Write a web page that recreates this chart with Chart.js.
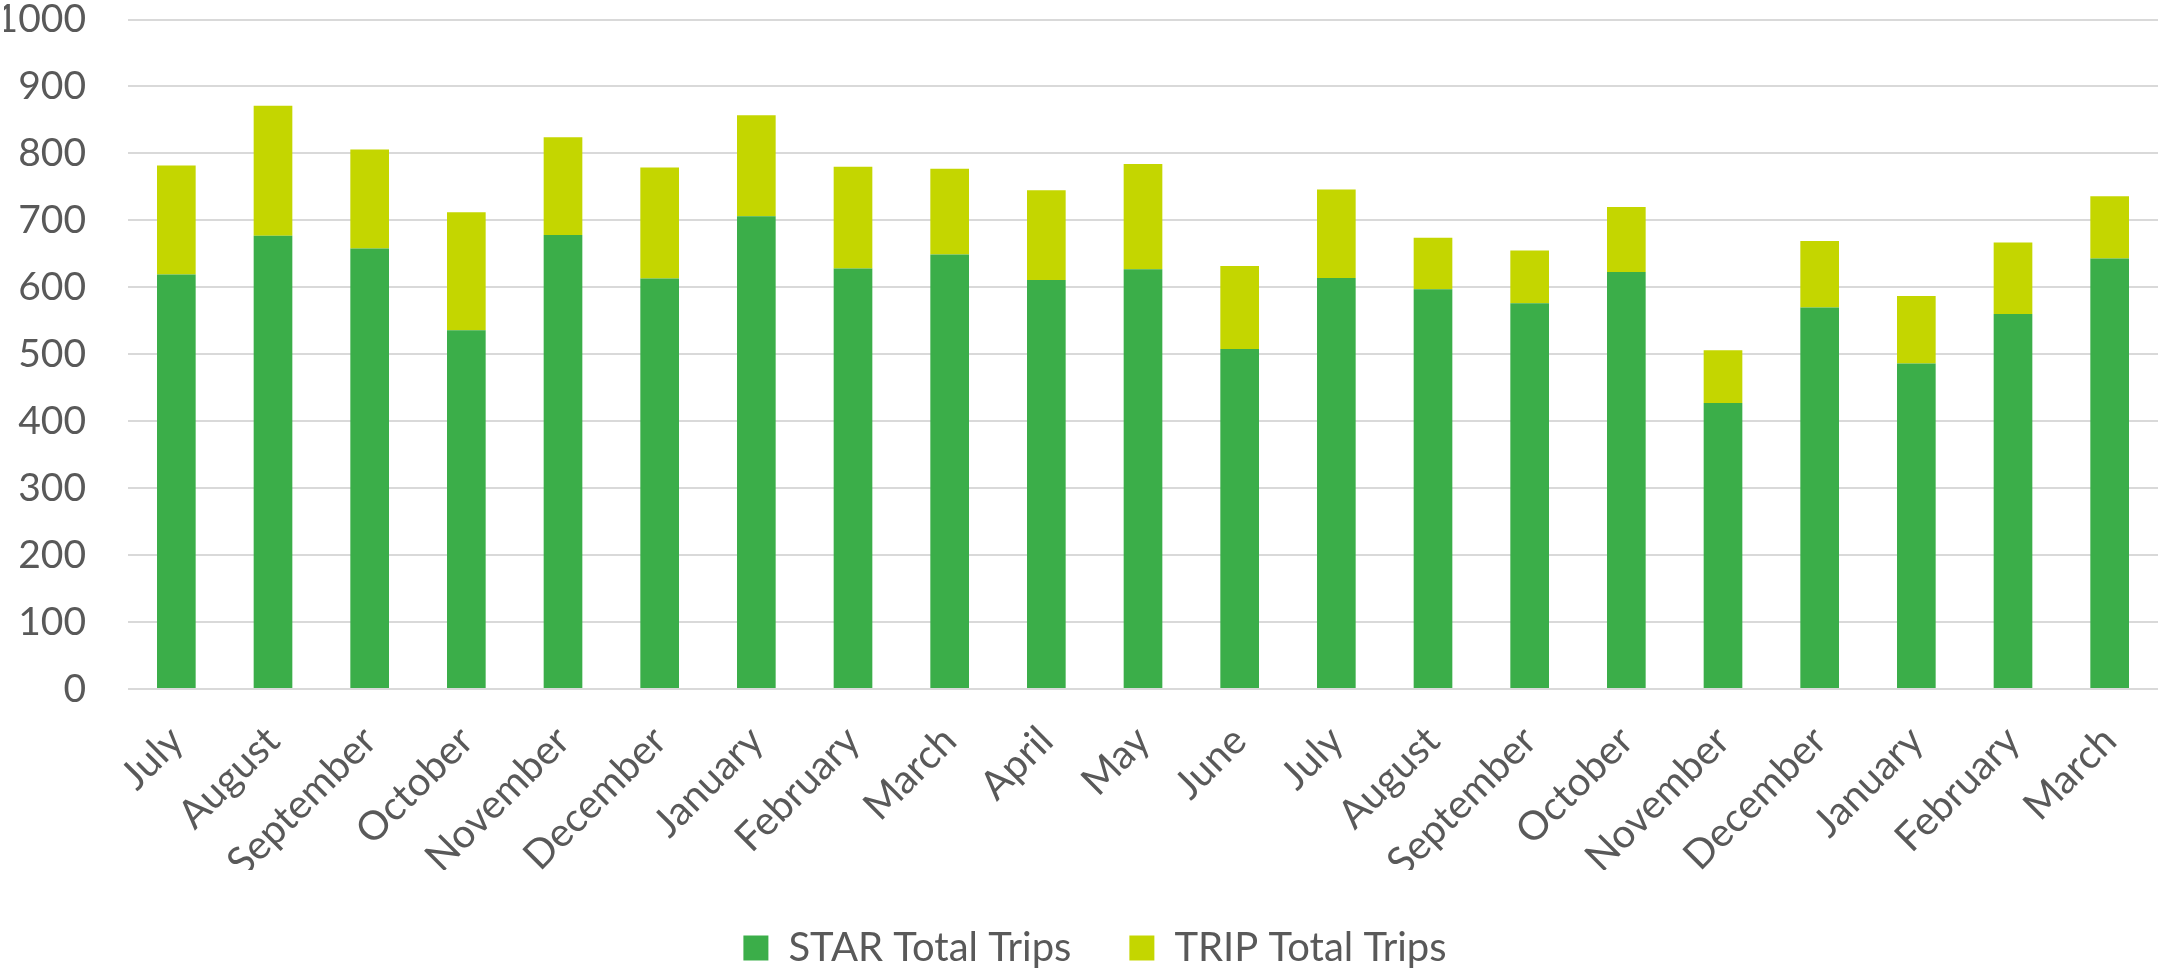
<!DOCTYPE html>
<html>
<head>
<meta charset="utf-8">
<script src="https://cdn.jsdelivr.net/npm/chart.js@4"></script>
<style>
    html, body { margin: 0; padding: 0; background: #ffffff; overflow: hidden; }
    #wrap { width: 2160px; height: 978px; }
</style>
</head>
<body>
<div id="wrap"><canvas id="tripsChart"></canvas></div>
<script>
// --- Chart data ---
const months = ['July', 'August', 'September', 'October', 'November', 'December', 'January',
    'February', 'March', 'April', 'May', 'June', 'July', 'August', 'September', 'October',
    'November', 'December', 'January', 'February', 'March'];
const starTrips = [619, 677, 658, 536, 678, 613, 706, 628, 649, 611, 627, 508, 614, 597, 576, 623, 427, 570, 486, 560, 643];
const tripTrips = [163, 194, 148, 176, 146, 166, 151, 152, 128, 134, 157, 124, 132, 77, 79, 97, 79, 99, 101, 107, 93];
const yTicks = [0, 100, 200, 300, 400, 500, 600, 700, 800, 900, 1000];

const textColor = '#595959';
const fontFamily = 'Lato, "Open Sans", sans-serif';

Chart.defaults.font.family = fontFamily;
Chart.defaults.color = textColor;

// nudge the legend a little to the right, like the original
const legendShift = {
    id: 'legendShift',
    afterLayout(chart) {
        if (chart.legend) {
            chart.legend.left += 14;
            chart.legend.right += 14;
        }
    }
};

new Chart(document.getElementById('tripsChart').getContext('2d'), {
    type: 'bar',
    data: {
        labels: months,
        datasets: [
            {
                label: 'STAR Total Trips',
                data: starTrips,
                backgroundColor: '#3bae49',
                barPercentage: 0.4,
                categoryPercentage: 1.0
            },
            {
                label: 'TRIP Total Trips',
                data: tripTrips,
                backgroundColor: '#c4d600',
                barPercentage: 0.4,
                categoryPercentage: 1.0
            }
        ]
    },
    options: {
        responsive: true,
        maintainAspectRatio: false,
        animation: false,
        layout: { padding: { left: 4, right: 2, top: 0, bottom: 0 } },
        scales: {
            x: {
                stacked: true,
                // invisible tick marks only push the labels down
                grid: { drawOnChartArea: false, drawTicks: true, tickLength: 31, tickColor: 'rgba(0,0,0,0)' },
                border: { display: false },
                ticks: {
                    minRotation: 45,
                    maxRotation: 45,
                    padding: 0,
                    font: { size: 40, lineHeight: 1.0 }
                },
                afterFit: (scale) => { scale.height = 181; }
            },
            y: {
                stacked: true,
                min: 0,
                max: 1000,
                afterBuildTicks: (axis) => { axis.ticks = yTicks.map(v => ({ value: v })); },
                grid: { color: '#d9d9d9', lineWidth: 2, drawTicks: true, tickLength: 42, tickColor: 'rgba(0,0,0,0)' },
                border: { display: false },
                ticks: {
                    padding: 0,
                    font: { size: 39, lineHeight: 1.0 },
                    callback: (value) => String(value)
                },
                afterFit: (scale) => { scale.width = 124; }
            }
        },
        plugins: {
            legend: {
                position: 'bottom',
                labels: {
                    boxWidth: 25,
                    boxHeight: 25,
                    padding: 58,
                    font: { size: 40 }
                }
            },
            tooltip: { enabled: false }
        }
    },
    plugins: [legendShift]
});
</script>
</body>
</html>
